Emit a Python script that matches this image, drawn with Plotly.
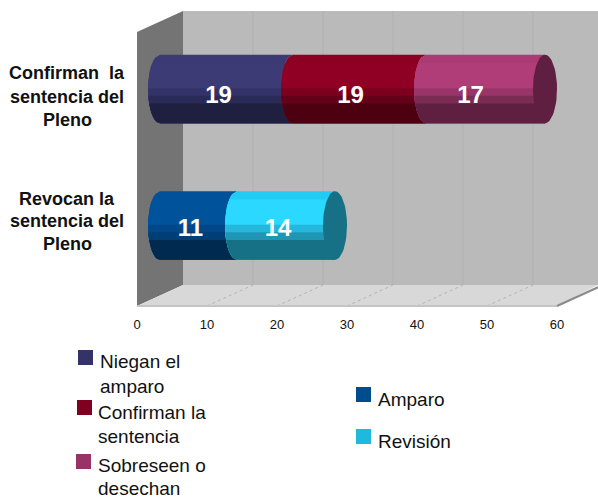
import numpy as np
import plotly.graph_objects as go

# ---- data ----
categories = [["Confirman  la", "sentencia del", "Pleno"], ["Revocan la", "sentencia del", "Pleno"]]
row1_values = [19, 19, 17]
row2_values = [11, 14]
tick_values = [0, 10, 20, 30, 40, 50, 60]
legend_left = [["Niegan el", "amparo"], ["Confirman la", "sentencia"], ["Sobreseen o", "desechan"]]
legend_right = ["Amparo", "Revisión"]

# band shades of each segment, top to bottom
row1_shades = [
    ["#3B3A74", "#3C3B76", "#33336A", "#2A2A56", "#1F1F40"],
    ["#8C0022", "#900024", "#7C001E", "#640018", "#4C0010"],
    ["#AC3A74", "#B03C78", "#983468", "#7A2C52", "#5F1F40"],
]
row2_shades = [
    ["#00509A", "#00529A", "#00488A", "#003E74", "#002A50"],
    ["#20CCF4", "#2BD8FF", "#25B8DC", "#1F97B4", "#167086"],
]
cap_colors = ["#5F1F40", "#167086"]
legend_left_colors = ["#333366", "#800020", "#993366"]
legend_right_colors = ["#004C8C", "#20B8DC"]

FONT = "Liberation Sans"
PX = 7.0            # pixels per unit
X0 = 137.0          # pixel of value 0 on the front plane
DEPTH_X, DEPTH_Y = 46.0, 21.0
FRONT_TOP, FRONT_BOTTOM = 32.0, 306.0
BAR_H = 68.5
A = 12.0            # half width of the cylinder ellipse
W, H = 598, 498
BAND_FRAC = [0.0, 0.12, 0.49, 0.60, 0.71, 1.0]

fig = go.Figure()


def poly(xs, ys, color):
    fig.add_trace(go.Scatter(x=xs, y=ys, mode="lines", fill="toself", fillcolor=color,
                             line=dict(width=0, color=color), hoverinfo="skip", showlegend=False))


def seg(xs, ys, color, width=1, dash="solid"):
    fig.add_trace(go.Scatter(x=xs, y=ys, mode="lines", line=dict(width=width, color=color, dash=dash),
                             hoverinfo="skip", showlegend=False))


dx = DEPTH_X / PX
xmax = (W - X0) / PX
# walls and floor
poly([dx, xmax, xmax, dx], [FRONT_TOP - DEPTH_Y, FRONT_TOP - DEPTH_Y, FRONT_BOTTOM - DEPTH_Y, FRONT_BOTTOM - DEPTH_Y], "#BABABA")
poly([0, dx, dx, 0], [FRONT_TOP, FRONT_TOP - DEPTH_Y, FRONT_BOTTOM - DEPTH_Y, FRONT_BOTTOM], "#747474")
poly([0, dx, xmax, 60], [FRONT_BOTTOM, FRONT_BOTTOM - DEPTH_Y, FRONT_BOTTOM - DEPTH_Y, FRONT_BOTTOM], "#D8D8D8")
for v in tick_values[1:]:
    seg([v + dx, v + dx], [FRONT_TOP - DEPTH_Y, FRONT_BOTTOM - DEPTH_Y], "#B0B0B0")
    seg([v, v + dx], [FRONT_BOTTOM, FRONT_BOTTOM - DEPTH_Y], "#B4B4B4", 1, "dot")
seg([0, 60], [FRONT_BOTTOM, FRONT_BOTTOM], "#C4C4C4", 2)
seg([60, xmax], [FRONT_BOTTOM, FRONT_BOTTOM - (xmax - 60) * PX * DEPTH_Y / DEPTH_X], "#8A8A8A", 2)

# cylinders
band_h = 136.5
offs = dx / 2
a_u = A / PX


def left_arc(xc, y1, y2, yc):
    ys = np.linspace(y1, y2, 24)
    t = np.clip((ys - yc) / (BAR_H / 2), -1, 1)
    return xc - a_u * np.sqrt(1 - t ** 2), ys


def draw_row(i, values, shades, cap):
    yc = FRONT_TOP + band_h * (i + 0.5) - DEPTH_Y / 2 - 0.75
    top = yc - BAR_H / 2
    bottom = top + BAR_H
    edges = np.concatenate([[0], np.cumsum(values)]) + offs
    for k in range(len(values)):
        # each band is painted from its top to the cylinder's bottom, so no seams show
        for b, color in enumerate(shades[k]):
            y1 = top + BAND_FRAC[b] * BAR_H
            lx, ly = left_arc(edges[k], y1, bottom, yc)
            rx, ry = left_arc(edges[k + 1], bottom, y1, yc)
            if k == len(values) - 1:
                rx = np.full_like(rx, edges[k + 1])
            poly(list(lx) + list(rx), list(ly) + list(ry), color)
    th = np.linspace(0, 2 * np.pi, 60)
    poly(list(edges[-1] + a_u * np.cos(th)), list(yc + BAR_H / 2 * np.sin(th)), cap)
    return edges, yc


LABEL_SHIFT = [[-8, -9, -15], [-8, -8]]
LABEL_DROP = [7.5, 4]
for i, (vals, shades, cap) in enumerate(zip([row1_values, row2_values], [row1_shades, row2_shades], cap_colors)):
    edges, yc = draw_row(i, vals, shades, cap)
    xs = [(edges[k] + edges[k + 1]) / 2 + LABEL_SHIFT[i][k] / PX for k in range(len(vals))]
    fig.add_trace(go.Scatter(x=xs, y=[yc + LABEL_DROP[i]] * len(vals), mode="text", text=[str(v) for v in vals],
                             textfont=dict(family=FONT, size=24, color="white", weight="bold"),
                             textposition="middle center", hoverinfo="skip", showlegend=False))

annotations = []


def label(x, y, text, size, bold=False, anchor="left"):
    annotations.append(dict(xref="paper", yref="paper", x=x / W, y=1 - y / H, text=f"<b>{text}</b>" if bold else text,
                            showarrow=False, xanchor=anchor, yanchor="middle", align=anchor,
                            font=dict(family=FONT, size=size, color="#111111"),
                            borderpad=0, borderwidth=0))


for lines, ys in zip(categories, [[73, 97, 120], [199, 221, 244]]):
    for line, y in zip(lines, ys):
        label(67, y, line, 18, True, "center")

for lines, ys, x in zip(legend_left, [[361, 386], [412, 436], [465, 488]], [100, 98, 98]):
    for line, y in zip(lines, ys):
        label(x, y, line, 19)
for text, y in zip(legend_right, [399, 441]):
    label(378, y, text, 19)

shapes = []
for color, (x, y) in zip(legend_left_colors + legend_right_colors,
                         [(78, 350), (77, 400), (76, 454), (356, 387), (356, 429)]):
    shapes.append(dict(type="rect", xref="paper", yref="paper", x0=x / W, x1=(x + 15) / W,
                       y0=1 - (y + 15) / H, y1=1 - y / H, fillcolor=color, line=dict(width=0)))

fig.update_layout(
    width=W, height=H, margin=dict(l=0, r=0, t=0, b=0), paper_bgcolor="white", plot_bgcolor="white",
    showlegend=False, annotations=annotations, shapes=shapes,
    font=dict(family=FONT),
    xaxis=dict(range=[-X0 / PX, (W - X0) / PX], domain=[0, 1], anchor="free", position=(H - FRONT_BOTTOM) / H,
               tickmode="array", tickvals=tick_values, showgrid=False, zeroline=False, showline=False,
               ticks="outside", ticklen=6, tickcolor="rgba(0,0,0,0)",
               tickfont=dict(family=FONT, size=13, color="#111111")),
    yaxis=dict(range=[H, 0], domain=[0, 1], visible=False),
)
fig.write_html("out.html", config=dict(displayModeBar=False),
               post_script="document.body.style.margin='0';document.body.style.overflow='hidden';")
